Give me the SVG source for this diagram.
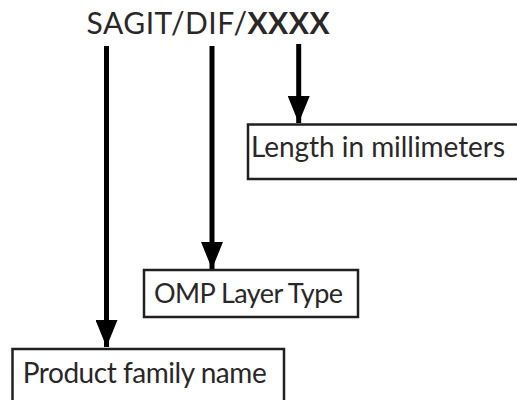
<svg xmlns="http://www.w3.org/2000/svg" width="517" height="400" viewBox="0 0 517 400">
<style>
.box{fill:#fff;stroke:#231f20;stroke-width:2.5}
.lbl{font-family:Lato,"Open Sans",sans-serif;font-size:28px;fill:#2b2728}
.conn{stroke:#000;stroke-width:5;fill:none}
</style>
<defs>
<marker id="ah" viewBox="0 0 27 22" markerWidth="27" markerHeight="22" refX="27" refY="11" orient="auto" markerUnits="userSpaceOnUse">
<path d="M0,0 L27,11 L0,22 z" fill="#000"/>
</marker>
</defs>
<rect width="517" height="400" fill="#fff"/>
<g id="title">
<text class="lbl" x="86.5" y="34.3" style="font-size:30px" textLength="243" lengthAdjust="spacing">SAGIT/DIF/<tspan font-weight="bold">XXXX</tspan></text>
</g>
<g id="connectors">
<line class="conn" x1="106.5" y1="46" x2="106.5" y2="347" marker-end="url(#ah)"/>
<line class="conn" x1="212" y1="46" x2="212" y2="269" marker-end="url(#ah)"/>
<line class="conn" x1="298.7" y1="44" x2="298.7" y2="123" marker-end="url(#ah)"/>
</g>
<g id="length">
<rect class="box" x="248" y="124.5" width="272" height="54.5"/>
<text class="lbl" x="251" y="156.7" textLength="254" lengthAdjust="spacing">Length in millimeters</text>
</g>
<g id="omp">
<rect class="box" x="144" y="270" width="214" height="47"/>
<text class="lbl" x="154" y="303.3" style="font-size:27px" textLength="189" lengthAdjust="spacing">OMP Layer Type</text>
</g>
<g id="product">
<rect class="box" x="12.5" y="349" width="271.5" height="60"/>
<text class="lbl" x="22.7" y="383.3" textLength="244" lengthAdjust="spacing">Product family name</text>
</g>
</svg>
